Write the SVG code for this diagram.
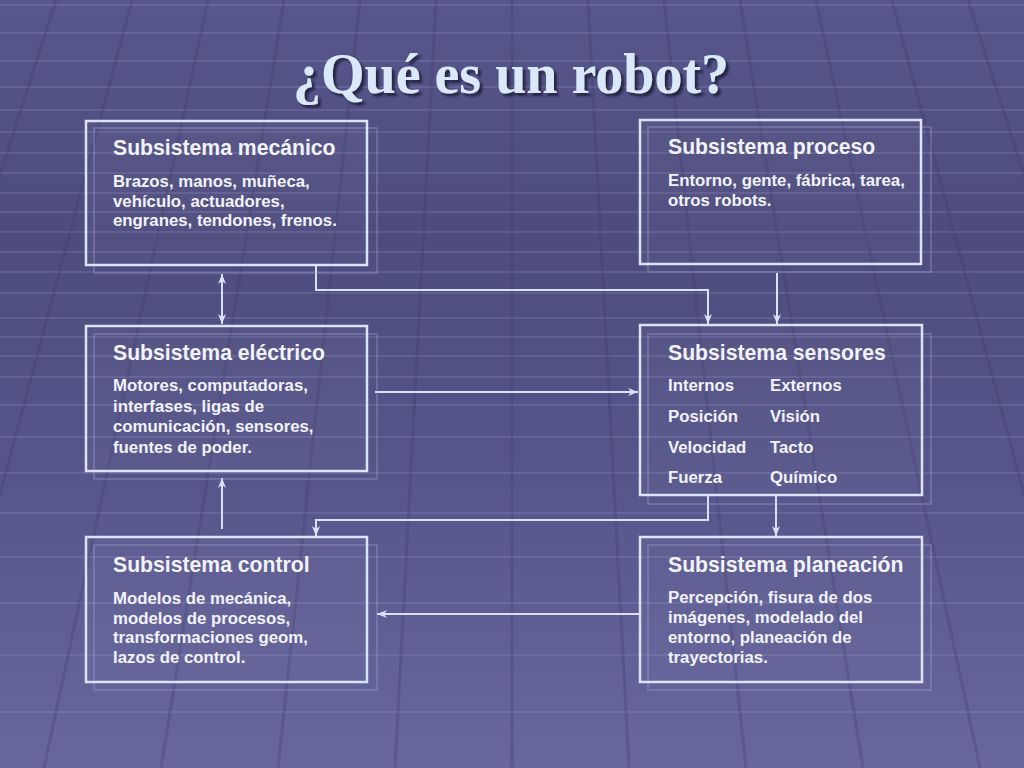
<svg xmlns="http://www.w3.org/2000/svg" width="1024" height="768" viewBox="0 0 1024 768">
<style>
.box{fill:#ffffff;fill-opacity:0.03;stroke:#d8e4f8;stroke-width:2.5}
.shadow{fill:none;stroke:#a8a8d8;stroke-opacity:0.3;stroke-width:2}
.h{font-family:"Liberation Sans",Arial,sans-serif;font-weight:bold;font-size:21.2px;fill:#f2f2fa}
.b{font-family:"Liberation Sans",Arial,sans-serif;font-weight:bold;font-size:16.8px;fill:#f2f2fa}
.con{fill:none;stroke:#d6e2f6;stroke-width:2}
.hl{stroke:#a0a0d4;stroke-opacity:0.2;stroke-width:2}
.vl{stroke:#3e3d6a;stroke-opacity:0.3;stroke-width:3}
.title{font-family:"Liberation Serif","Times New Roman",serif;font-weight:bold;font-size:56px}
</style>
<defs>
<linearGradient id="bg" x1="0" y1="0" x2="0" y2="1">
<stop offset="0" stop-color="#58578c"/>
<stop offset="0.3" stop-color="#4d4c7d"/>
<stop offset="0.6" stop-color="#56558a"/>
<stop offset="1" stop-color="#67669e"/>
</linearGradient>
<filter id="ts" x="-10%" y="-30%" width="120%" height="160%">
<feDropShadow dx="3" dy="3" stdDeviation="0.8" flood-color="#1a1936" flood-opacity="0.8"/>
</filter>
<marker id="ah" viewBox="0 0 10 8" refX="10" refY="4" markerWidth="10" markerHeight="8" markerUnits="userSpaceOnUse" orient="auto-start-reverse">
<path d="M0,0 L10,4 L0,8 L3,4 z" fill="#d6e2f6"/>
</marker>
</defs>
<g id="background">
<rect x="0" y="0" width="1024" height="768" fill="url(#bg)"/>
<g class="hl">
<line x1="0" y1="5" x2="1024" y2="5"/><line x1="0" y1="33" x2="1024" y2="33"/><line x1="0" y1="61" x2="1024" y2="61"/><line x1="0" y1="87" x2="1024" y2="87"/><line x1="0" y1="110" x2="1024" y2="110"/><line x1="0" y1="132" x2="1024" y2="132"/><line x1="0" y1="153" x2="1024" y2="153"/><line x1="0" y1="173" x2="1024" y2="173"/><line x1="0" y1="193" x2="1024" y2="193"/><line x1="0" y1="212" x2="1024" y2="212"/><line x1="0" y1="232" x2="1024" y2="232"/><line x1="0" y1="252" x2="1024" y2="252"/><line x1="0" y1="272" x2="1024" y2="272"/><line x1="0" y1="293" x2="1024" y2="293"/><line x1="0" y1="318" x2="1024" y2="318"/><line x1="0" y1="337" x2="1024" y2="337"/><line x1="0" y1="356" x2="1024" y2="356"/><line x1="0" y1="377" x2="1024" y2="377"/><line x1="0" y1="405" x2="1024" y2="405"/><line x1="0" y1="437" x2="1024" y2="437"/><line x1="0" y1="473" x2="1024" y2="473"/><line x1="0" y1="513" x2="1024" y2="513"/><line x1="0" y1="557" x2="1024" y2="557"/><line x1="0" y1="603" x2="1024" y2="603"/><line x1="0" y1="655" x2="1024" y2="655"/><line x1="0" y1="712" x2="1024" y2="712"/>
</g>
<g class="vl">
<line x1="512" y1="0" x2="512" y2="768"/>
<line x1="436" y1="0" x2="395" y2="768"/><line x1="588" y1="0" x2="629" y2="768"/>
<line x1="360" y1="0" x2="278" y2="768"/><line x1="664" y1="0" x2="746" y2="768"/>
<line x1="284" y1="0" x2="161" y2="768"/><line x1="740" y1="0" x2="863" y2="768"/>
<line x1="208" y1="0" x2="44" y2="768"/><line x1="816" y1="0" x2="980" y2="768"/>
<line x1="132" y1="0" x2="-73" y2="768"/><line x1="892" y1="0" x2="1097" y2="768"/>
<line x1="56" y1="0" x2="-190" y2="768"/><line x1="968" y1="0" x2="1214" y2="768"/>
</g>
</g>
<g id="title">
<text x="511" y="93" text-anchor="middle" class="title" fill="#dbe8fa" filter="url(#ts)">¿Qué es un robot?</text>
</g>
<g id="connectors">
<path class="con" d="M222,274 V324" marker-start="url(#ah)" marker-end="url(#ah)"/>
<path class="con" d="M316,265 V290 H708 V324" marker-end="url(#ah)"/>
<path class="con" d="M777,273 V324" marker-end="url(#ah)"/>
<path class="con" d="M375,392 H638" marker-end="url(#ah)"/>
<path class="con" d="M708,495 V520 H316 V536" marker-end="url(#ah)"/>
<path class="con" d="M776,495 V536" marker-end="url(#ah)"/>
<path class="con" d="M222,529 V478" marker-end="url(#ah)"/>
<path class="con" d="M640,614 H377" marker-end="url(#ah)"/>
</g>
<g id="mecanico">
<rect class="shadow" x="94" y="128" width="283" height="145"/>
<rect class="box" x="86" y="121" width="281" height="144"/>
<text class="h" x="113" y="155">Subsistema mecánico</text>
<text class="b" x="113" y="187">Brazos, manos, muñeca,</text>
<text class="b" x="113" y="206.5">vehículo, actuadores,</text>
<text class="b" x="113" y="226">engranes, tendones, frenos.</text>
</g>
<g id="proceso">
<rect class="shadow" x="648" y="127" width="283" height="145"/>
<rect class="box" x="640" y="120" width="281" height="144"/>
<text class="h" x="668" y="154">Subsistema proceso</text>
<text class="b" x="668" y="186">Entorno, gente, fábrica, tarea,</text>
<text class="b" x="668" y="206">otros robots.</text>
</g>
<g id="electrico">
<rect class="shadow" x="94" y="334" width="283" height="145"/>
<rect class="box" x="86" y="326" width="281" height="145"/>
<text class="h" x="113" y="360">Subsistema eléctrico</text>
<text class="b" x="113" y="391">Motores, computadoras,</text>
<text class="b" x="113" y="411.5">interfases, ligas de</text>
<text class="b" x="113" y="432">comunicación, sensores,</text>
<text class="b" x="113" y="452.5">fuentes de poder.</text>
</g>
<g id="sensores">
<rect class="shadow" x="648" y="334" width="283" height="170"/>
<rect class="box" x="640" y="325" width="282" height="170"/>
<text class="h" x="668" y="360">Subsistema sensores</text>
<text class="b" x="668" y="391">Internos</text>
<text class="b" x="770" y="391">Externos</text>
<text class="b" x="668" y="422">Posición</text>
<text class="b" x="770" y="422">Visión</text>
<text class="b" x="668" y="453">Velocidad</text>
<text class="b" x="770" y="453">Tacto</text>
<text class="b" x="668" y="483">Fuerza</text>
<text class="b" x="770" y="483">Químico</text>
</g>
<g id="control">
<rect class="shadow" x="94" y="545" width="283" height="145"/>
<rect class="box" x="86" y="537" width="281" height="145"/>
<text class="h" x="113" y="572">Subsistema control</text>
<text class="b" x="113" y="604">Modelos de mecánica,</text>
<text class="b" x="113" y="623.5">modelos de procesos,</text>
<text class="b" x="113" y="643">transformaciones geom,</text>
<text class="b" x="113" y="663">lazos de control.</text>
</g>
<g id="planeacion">
<rect class="shadow" x="648" y="545" width="283" height="145"/>
<rect class="box" x="640" y="537" width="282" height="145"/>
<text class="h" x="668" y="572">Subsistema planeación</text>
<text class="b" x="668" y="603">Percepción, fisura de dos</text>
<text class="b" x="668" y="623">imágenes, modelado del</text>
<text class="b" x="668" y="643">entorno, planeación de</text>
<text class="b" x="668" y="663">trayectorias.</text>
</g>
</svg>
